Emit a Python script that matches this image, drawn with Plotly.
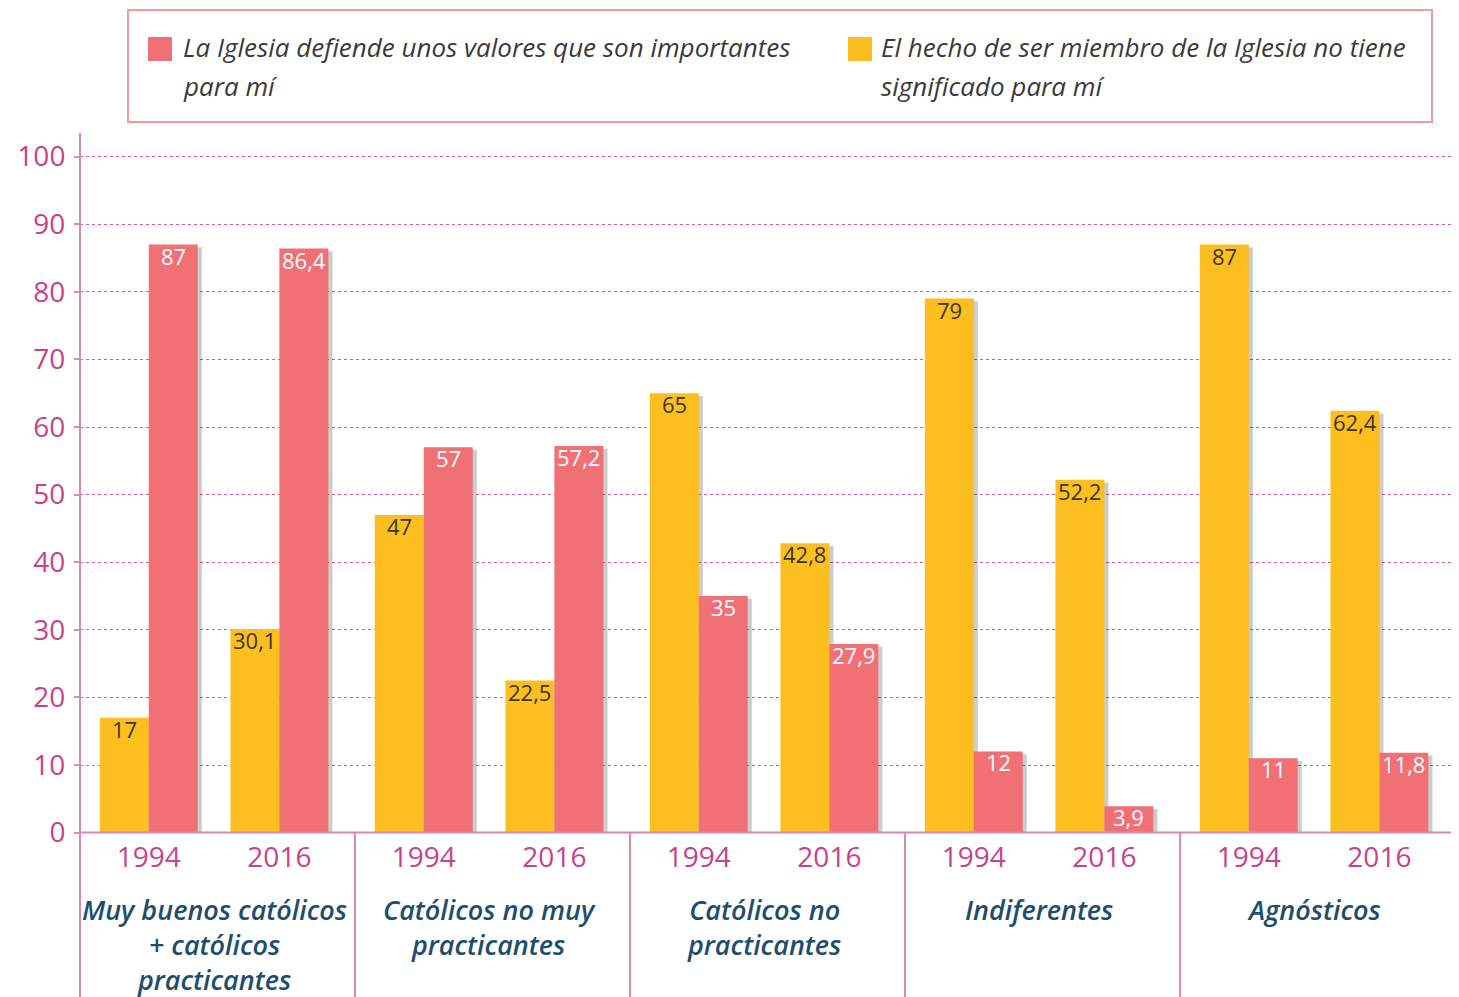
import plotly.graph_objects as go

groups = ["Muy buenos católicos<br>+ católicos<br>practicantes",
          "Católicos no muy<br>practicantes",
          "Católicos no<br>practicantes",
          "Indiferentes",
          "Agnósticos"]
years = ["1994", "2016"]
sin_significado = [17, 30.1, 47, 22.5, 65, 42.8, 79, 52.2, 87, 62.4]
valores_importantes = [87, 86.4, 57, 57.2, 35, 27.9, 12, 3.9, 11, 11.8]
legend_red = ["La Iglesia defiende unos valores que son importantes", "para mí"]
legend_yellow = ["El hecho de ser miembro de la Iglesia no tiene", "significado para mí"]

YELLOW = "#FDBE1F"
RED = "#F07075"
PINK = "#C7428A"
GRID = "#CF5F98"
TEAL = "#1D4E6E"
LINE = "#D88AB4"

OFF = 8  # page body margin
W, H = 1459 - OFF, 997 - OFF
PL, PR = 80, 1455          # reference pixel coords of plot area
PT, PB = 135, 838.4
GROUP_STEP = 2.0
YEAR_STEP = 0.95

def px(x):
    return (x - PL) / (PR - PL)

def py(y):
    return (PB - y) / (PB - PT)

# bar slot positions: one group per category, two years inside each group
xs = [g * GROUP_STEP + k * YEAR_STEP for g in range(len(groups)) for k in range(len(years))]
year_labels = [years[k] for g in range(len(groups)) for k in range(len(years))]
bw = 0.356

def fmt(v):
    return ("%g" % v).replace(".", ",")

fig = go.Figure()
for vals, off in [(sin_significado, -bw), (valores_importantes, 0)]:
    fig.add_trace(go.Bar(x=xs, y=[v - 0.4 for v in vals], offset=off + 0.03, width=bw,
                         marker=dict(color="rgba(0,0,0,0.2)", line=dict(width=0)),
                         hoverinfo="skip", showlegend=False))
fig.add_trace(go.Bar(x=xs, y=sin_significado, offset=-bw, width=bw,
                     marker=dict(color=YELLOW, line=dict(width=0)),
                     name="El hecho de ser miembro de la Iglesia no tiene significado para mí",
                     showlegend=False))
fig.add_trace(go.Bar(x=xs, y=valores_importantes, offset=0, width=bw,
                     marker=dict(color=RED, line=dict(width=0)),
                     name="La Iglesia defiende unos valores que son importantes para mí",
                     showlegend=False))

shapes = []
shapes.append(dict(type="line", xref="paper", yref="y", x0=0, x1=1.01, y0=0, y1=0,
                   line=dict(color=LINE, width=2), layer="above"))
shapes.append(dict(type="line", xref="paper", yref="paper", x0=0, x1=0, y0=py(133), y1=py(1005),
                   line=dict(color=LINE, width=2), layer="above"))
for g in range(len(groups)):
    sx = (g + 1) * GROUP_STEP - 0.5
    shapes.append(dict(type="line", xref="x", yref="paper", x0=sx, x1=sx, y0=py(833), y1=py(1005),
                       line=dict(color=LINE, width=2), layer="above"))
shapes.append(dict(type="rect", xref="paper", yref="paper", x0=px(128), x1=px(1432), y0=py(122), y1=py(10),
                   line=dict(color="#F29A9C", width=2), fillcolor="white"))
shapes.append(dict(type="rect", xref="paper", yref="paper", x0=px(148), x1=px(172), y0=py(61), y1=py(37),
                   line=dict(width=0), fillcolor=RED))
shapes.append(dict(type="rect", xref="paper", yref="paper", x0=px(848), x1=px(872), y0=py(61), y1=py(37),
                   line=dict(width=0), fillcolor=YELLOW))

annotations = []
for xi, v in zip(xs, sin_significado):
    annotations.append(dict(x=xi - bw / 2, y=v, xref="x", yref="y", yanchor="middle", yshift=-11,
                            text=fmt(v), showarrow=False,
                            font=dict(family="Open Sans", size=22, color="#3b3720")))
for xi, v in zip(xs, valores_importantes):
    annotations.append(dict(x=xi + bw / 2, y=v, xref="x", yref="y", yanchor="middle", yshift=-11,
                            text=fmt(v), showarrow=False,
                            font=dict(family="Open Sans", size=22, color="white")))
for lines, lx in [(legend_red, 181), (legend_yellow, 879)]:
    for j, t in enumerate(lines):
        annotations.append(dict(xref="paper", yref="paper", x=px(lx), y=py(47 + 39 * j),
                                xanchor="left", yanchor="middle",
                                text="<i>" + t + "</i>", showarrow=False, align="left",
                                font=dict(family="Open Sans", size=26, color="#3a3a3a")))
for i, g in enumerate(groups):
    annotations.append(dict(xref="x", yref="paper", x=i * GROUP_STEP + YEAR_STEP / 2, y=py(889),
                            xanchor="center", yanchor="top",
                            text="<i>" + g + "</i>", showarrow=False, align="center",
                            font=dict(family="Open Sans", size=27, color=TEAL, weight=600)))

fig.update_layout(
    width=W, height=H,
    margin=dict(l=PL - OFF, r=W - (PR - OFF), t=PT - OFF, b=H - (PB - OFF)),
    paper_bgcolor="white", plot_bgcolor="white",
    barmode="overlay",
    showlegend=False,
    shapes=shapes, annotations=annotations,
    xaxis=dict(range=[-0.5, 9.5], tickvals=xs, ticktext=year_labels, showgrid=False, zeroline=False,
               showline=False, ticks="", tickfont=dict(family="Open Sans", size=28, color=PINK)),
    yaxis=dict(range=[-0.8, 103.2], tickvals=list(range(0, 101, 10)), showgrid=True,
               gridcolor=GRID, griddash="dot", gridwidth=1.4, zeroline=False, showline=False,
               ticks="outside", ticklen=5, tickcolor=LINE, tickwidth=2, ticklabelstandoff=3,
               tickfont=dict(family="Open Sans", size=28, color=PINK)),
)

fig.write_html("out.html")
